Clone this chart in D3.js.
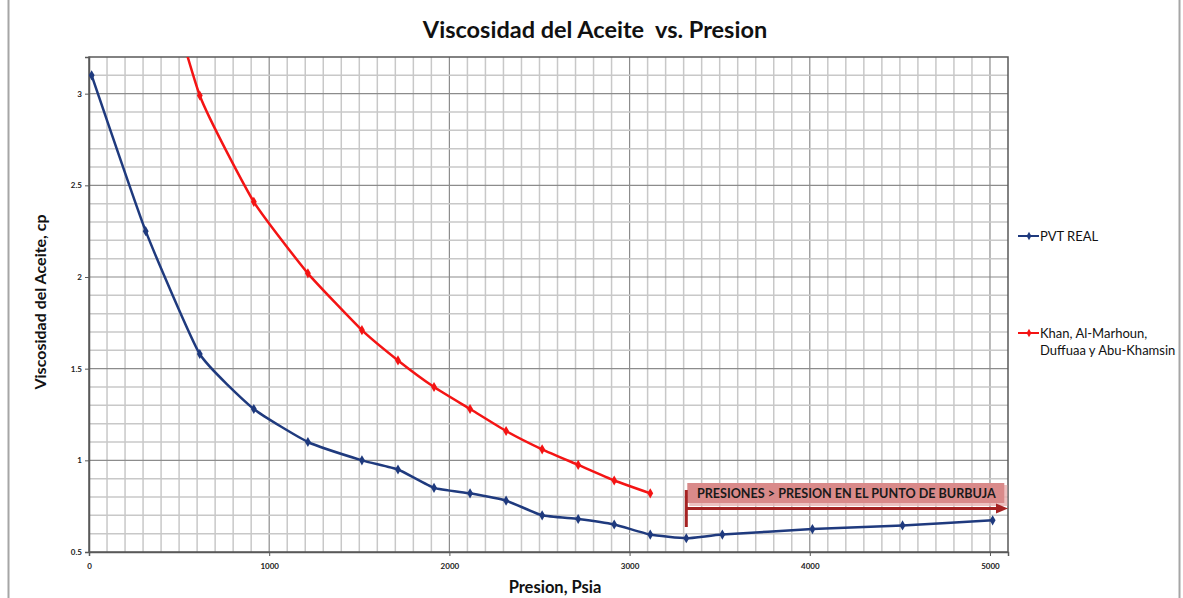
<!DOCTYPE html>
<html>
<head>
<meta charset="utf-8">
<script src="https://cdn.jsdelivr.net/npm/d3@7"></script>
<style>
  html, body { margin: 0; padding: 0; background: #fff; }
  svg { display: block; font-family: Lato, "Open Sans", "Liberation Sans", sans-serif; }
</style>
</head>
<body>
<svg id="chart" width="1183" height="598"></svg>
<script>
// Oil viscosity vs pressure: PVT lab data and the Khan / Al-Marhoun / Duffuaa / Abu-Khamsin correlation
const pvtPressure = [14.7, 314.7, 614.7, 914.7, 1214.7, 1514.7, 1714.7, 1914.7, 2114.7, 2314.7, 2514.7, 2714.7, 2914.7, 3114.7, 3314.7, 3514.7, 4014.7, 4514.7, 5014.7];
const pvtViscosity = [3.10, 2.25, 1.58, 1.28, 1.10, 1.00, 0.95, 0.85, 0.82, 0.78, 0.70, 0.68, 0.65, 0.595, 0.575, 0.595, 0.625, 0.645, 0.673];

const corrPressure = [314.7, 614.7, 914.7, 1214.7, 1514.7, 1714.7, 1914.7, 2114.7, 2314.7, 2514.7, 2714.7, 2914.7, 3114.7];
const corrViscosity = [4.00, 2.99, 2.41, 2.02, 1.71, 1.545, 1.40, 1.28, 1.16, 1.06, 0.975, 0.89, 0.82];

const xTicks = [0, 1000, 2000, 3000, 4000, 5000];
const yTicks = [0.5, 1, 1.5, 2, 2.5, 3];
const bubblePoint = 3314.7;

const seriesNames = ["PVT REAL", ["Khan, Al-Marhoun,", "Duffuaa y Abu-Khamsin"]];
const seriesColors = ["#1f3a7e", "#f41414"];

const svg = d3.select("#chart");
const W = 1183, H = 598;
const m = { left: 89, right: 1008, top: 57, bottom: 552 };

// outer chart frame
svg.append("rect").attr("x", 8.5).attr("y", -2).attr("width", 1171).attr("height", H + 4)
  .attr("fill", "none").attr("stroke", "#a6a6a6").attr("stroke-width", 2);

const x = d3.scaleLinear().domain([0, 5100]).range([m.left, m.right]);
const y = d3.scaleLinear().domain([0.5, 3.2]).range([m.bottom, m.top]);

// grid: minor every 100 psi / 0.1 cp, major at ticks
const grid = svg.append("g");
d3.range(100, 5100, 100).forEach(v => {
  const major = v % 1000 === 0;
  grid.append("line").attr("x1", x(v)).attr("x2", x(v)).attr("y1", m.top).attr("y2", m.bottom)
    .attr("stroke", major ? "#8c8c8c" : "#c8c8c8").attr("stroke-width", major ? 1.2 : 1.5);
});
d3.range(6, 32).map(i => i / 10).forEach(v => {
  const major = Math.abs(v * 2 - Math.round(v * 2)) < 1e-9;
  grid.append("line").attr("x1", m.left).attr("x2", m.right).attr("y1", y(v)).attr("y2", y(v))
    .attr("stroke", major ? "#8c8c8c" : "#c8c8c8").attr("stroke-width", major ? 1.2 : 1.5);
});

// plot frame
svg.append("rect").attr("x", m.left).attr("y", m.top).attr("width", m.right - m.left).attr("height", m.bottom - m.top)
  .attr("fill", "none").attr("stroke", "#595959").attr("stroke-width", 1.5);

// axes
const xAxis = d3.axisBottom(x).tickValues(xTicks).tickSize(4).tickFormat(d3.format("d"));
const yAxis = d3.axisLeft(y).tickValues(yTicks).tickSize(4).tickFormat(d => String(d));
const gx = svg.append("g").attr("transform", `translate(0,${m.bottom})`).call(xAxis);
const gy = svg.append("g").attr("transform", `translate(${m.left},0)`).call(yAxis);
[gx, gy].forEach(g => {
  g.select(".domain").attr("stroke", "#595959").attr("stroke-width", 1.5);
  g.selectAll(".tick line").attr("stroke", "#595959");
  g.selectAll("text").attr("font-size", 8).attr("font-weight", 700).attr("fill", "#222")
    .attr("font-family", "Lato, 'Open Sans', sans-serif");
});
gx.selectAll("text").attr("dy", "1.2em");

// series
svg.append("clipPath").attr("id", "plotClip").append("rect")
  .attr("x", m.left).attr("y", m.top).attr("width", m.right - m.left).attr("height", m.bottom - m.top);

const line = d3.line().x(d => x(d[0])).y(d => y(d[1])).curve(d3.curveCardinal.tension(0.55));
const diamond = d3.symbol().type(d3.symbolDiamond).size(30);

function drawSeries(px, py, color) {
  const pts = px.map((p, i) => [p, py[i]]);
  const g = svg.append("g").attr("clip-path", "url(#plotClip)");
  g.append("path").datum(pts).attr("d", line).attr("fill", "none")
    .attr("stroke", color).attr("stroke-width", 2.5);
  g.selectAll("path.mk").data(pts).enter().append("path").attr("class", "mk")
    .attr("d", diamond).attr("transform", d => `translate(${x(d[0])},${y(d[1])})`)
    .attr("fill", color);
}
drawSeries(pvtPressure, pvtViscosity, seriesColors[0]);
drawSeries(corrPressure, corrViscosity, seriesColors[1]);

// bubble point annotation
const ann = svg.append("g");
const bx = x(bubblePoint);
ann.append("rect").attr("x", bx + 3).attr("y", 485).attr("width", 318).attr("height", 21)
  .attr("fill", "#e8b0b0").attr("opacity", 0.8);
ann.append("rect").attr("x", bx + 1).attr("y", 483).attr("width", 317).attr("height", 20)
  .attr("fill", "#d98a8a");
ann.append("text").attr("x", bx + 160).attr("y", 497.5).attr("text-anchor", "middle")
  .attr("font-size", 12.6).attr("font-weight", 700).attr("fill", "#1a1a1a")
  .attr("font-family", "Lato, 'Open Sans', sans-serif")
  .text("PRESIONES > PRESION EN EL PUNTO DE BURBUJA");
const arrowColor = "#a52222";
ann.append("line").attr("x1", bx).attr("x2", bx).attr("y1", 490).attr("y2", 527)
  .attr("stroke", arrowColor).attr("stroke-width", 3);
ann.append("line").attr("x1", bx).attr("x2", 998).attr("y1", 508.5).attr("y2", 508.5)
  .attr("stroke", arrowColor).attr("stroke-width", 3);
ann.append("path").attr("d", "M996,503.5 L1008,508.5 L996,513.5 Z").attr("fill", arrowColor);

// title and axis titles
svg.append("text").attr("x", 595).attr("y", 38).attr("text-anchor", "middle")
  .attr("font-size", 23.5).attr("font-weight", 700).attr("fill", "#111")
  .style("white-space", "pre")
  .text("Viscosidad del Aceite  vs. Presion");
svg.append("text").attr("x", 555).attr("y", 593).attr("text-anchor", "middle")
  .attr("font-size", 16.5).attr("font-weight", 700).attr("fill", "#111")
  .text("Presion, Psia");
svg.append("text").attr("transform", "translate(46,302) rotate(-90)").attr("text-anchor", "middle")
  .attr("font-size", 16).attr("font-weight", 700).attr("fill", "#111")
  .text("Viscosidad del Aceite, cp");

// legend
const legY = [236, 333];
seriesNames.forEach((name, i) => {
  const g = svg.append("g");
  g.append("line").attr("x1", 1018).attr("x2", 1039).attr("y1", legY[i]).attr("y2", legY[i])
    .attr("stroke", seriesColors[i]).attr("stroke-width", 2);
  g.append("path").attr("d", d3.symbol().type(d3.symbolDiamond).size(20))
    .attr("transform", `translate(1029,${legY[i]})`).attr("fill", seriesColors[i]);
  const lines = Array.isArray(name) ? name : [name];
  lines.forEach((t, k) => {
    g.append("text").attr("x", 1040).attr("y", legY[i] + 5 + k * 16.5)
      .attr("font-size", 13).attr("fill", "#111").text(t);
  });
});
</script>
</body>
</html>
